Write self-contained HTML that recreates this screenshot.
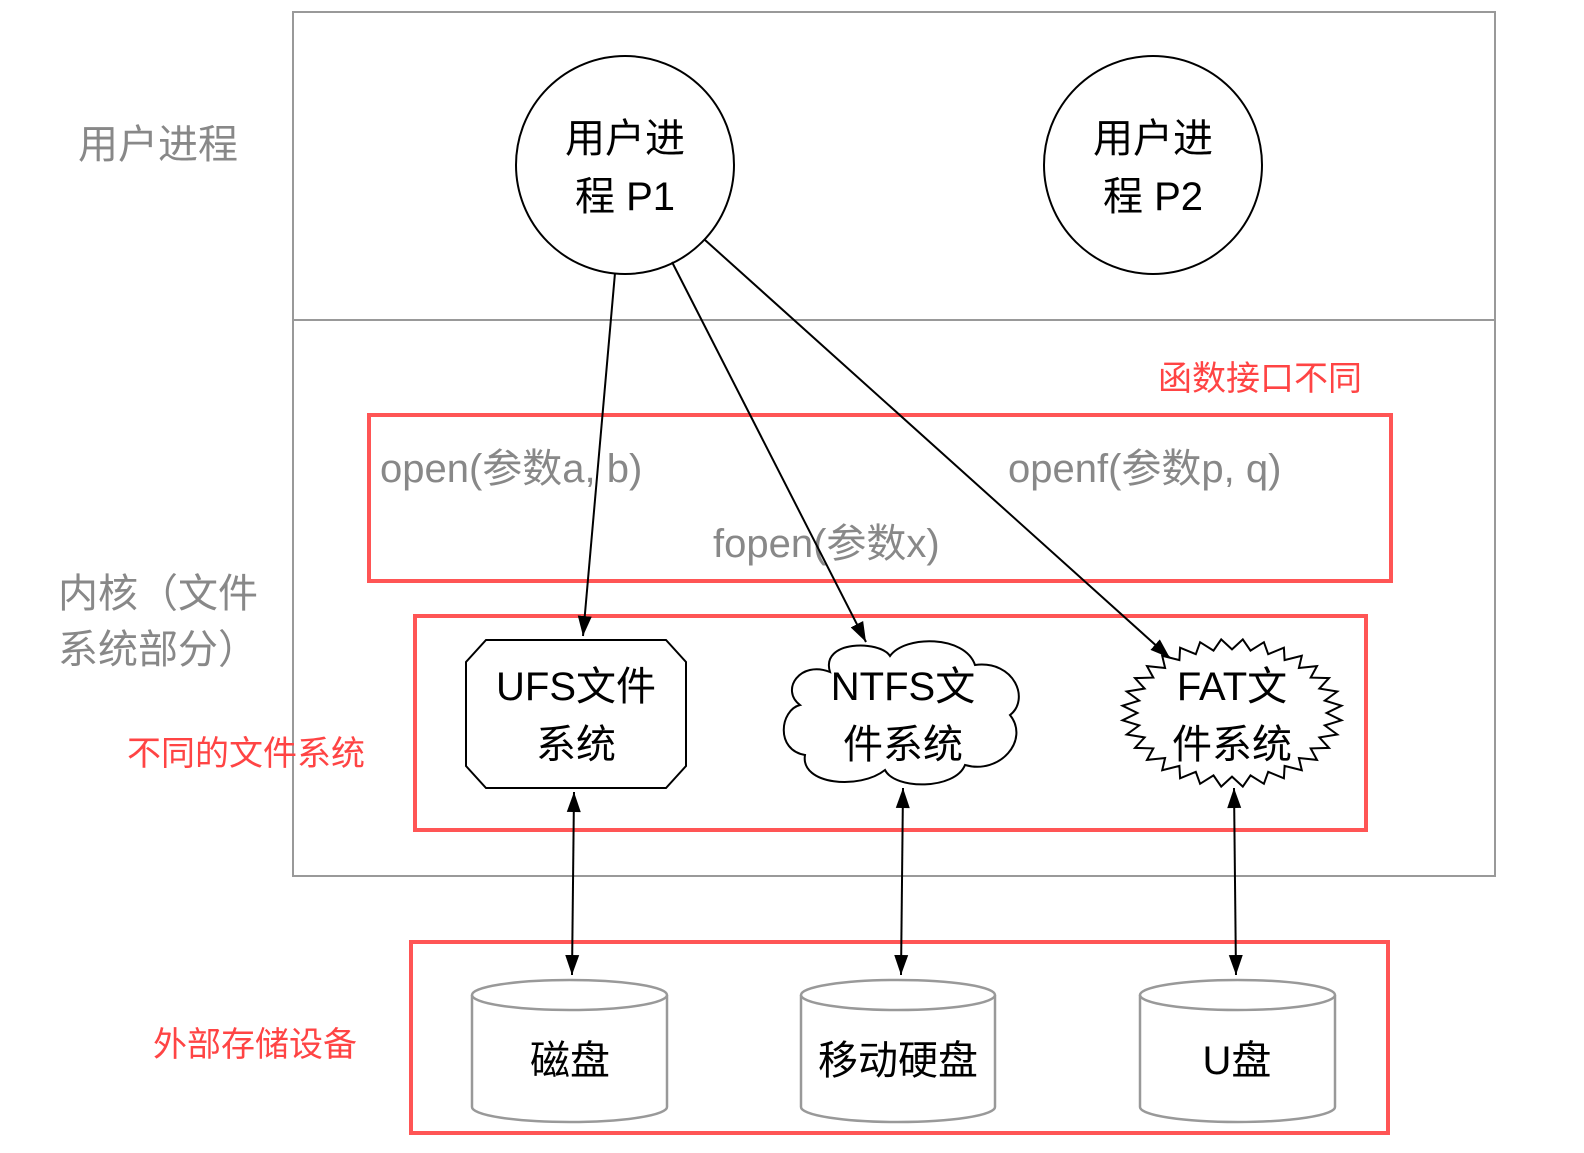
<!DOCTYPE html>
<html><head><meta charset="utf-8"><style>
html,body{margin:0;padding:0;background:#fff;}
svg text{font-family:"Liberation Sans","Noto Sans CJK SC",sans-serif;}
</style></head><body>
<svg id="s" width="1584" height="1148" viewBox="0 0 1584 1148" xmlns="http://www.w3.org/2000/svg">
<defs>
<marker id="a" markerWidth="10" markerHeight="10" refX="9" refY="5" orient="auto" markerUnits="userSpaceOnUse" viewBox="0 0 10 10">
<path d="M0,0 L10,5 L0,10 z" fill="#000"/></marker>
<marker id="ar" markerWidth="22" markerHeight="22" refX="20" refY="11" orient="auto" markerUnits="userSpaceOnUse">
<path d="M0,4 L20,11 L0,18 z" fill="#000"/></marker>
<marker id="as" markerWidth="22" markerHeight="22" refX="0" refY="11" orient="auto" markerUnits="userSpaceOnUse">
<path d="M20,4 L0,11 L20,18 z" fill="#000"/></marker>
</defs>
<rect x="293" y="12" width="1202" height="864" fill="none" stroke="#999" stroke-width="2"/>
<line x1="293" y1="320" x2="1495" y2="320" stroke="#999" stroke-width="2"/>
<g fill="#888" font-size="40">
<text x="78" y="158">用户进程</text>
<text x="58" y="607">内核（文件</text>
<text x="58" y="663">系统部分）</text>
<text x="380" y="482">open(参数a, b)</text>
<text x="1008" y="482">openf(参数p, q)</text>
<text x="713" y="557">fopen(参数x)</text>
</g>
<g fill="#f44" font-size="34">
<text x="1158" y="390">函数接口不同</text>
<text x="127" y="765">不同的文件系统</text>
<text x="153" y="1056">外部存储设备</text>
</g>
<g fill="none" stroke="#f55" stroke-width="4">
<rect x="369" y="415" width="1022" height="166"/>
<rect x="415" y="616" width="951" height="214"/>
<rect x="411" y="942" width="977" height="191"/>
</g>
<g fill="#fff" stroke="#000" stroke-width="2">
<circle cx="625" cy="165" r="109"/>
<circle cx="1153" cy="165" r="109"/>
</g>
<g font-size="40" fill="#000" text-anchor="middle">
<text x="625" y="152">用户进</text><text x="625" y="210">程 P1</text>
<text x="1153" y="152">用户进</text><text x="1153" y="210">程 P2</text>
</g>
<g stroke="#000" stroke-width="2" fill="none">
<line x1="615" y1="273" x2="583" y2="636" marker-end="url(#ar)"/>
<line x1="672" y1="262" x2="866" y2="642" marker-end="url(#ar)"/>
<line x1="705" y1="240" x2="1170" y2="658" marker-end="url(#ar)"/>
<line x1="574" y1="792" x2="572" y2="975" marker-start="url(#as)" marker-end="url(#ar)"/>
<line x1="903" y1="788" x2="901" y2="975" marker-start="url(#as)" marker-end="url(#ar)"/>
<line x1="1234" y1="788" x2="1236" y2="975" marker-start="url(#as)" marker-end="url(#ar)"/>
</g>
<polygon points="486,640 666,640 686,662 686,766 666,788 486,788 466,766 466,662" fill="#fff" stroke="#000" stroke-width="2"/>
<g id="cloud" stroke="#000" stroke-width="2" fill="#fff">
<path d="M830,672 C820,640 880,640 890,656 C905,635 965,635 975,665 C1015,660 1030,700 1010,715 C1030,740 1000,775 965,765 C955,790 895,790 885,770 C860,790 800,785 805,755 C775,750 780,710 800,705 C780,690 800,660 830,672 Z"/>
</g>
<polygon id="star" fill="#fff" stroke="#000" stroke-width="2" points=""/>
<g font-size="40" fill="#000" text-anchor="middle">
<text x="576" y="700">UFS文件</text><text x="576" y="758">系统</text>
<text x="903" y="700">NTFS文</text><text x="903" y="758">件系统</text>
<text x="1232" y="700">FAT文</text><text x="1232" y="758">件系统</text>
</g>
<g fill="#fff" stroke="#999" stroke-width="2.5">
<path d="M472,995 L472,1107 A97.5,15 0 0 0 667,1107 L667,995"/>
<ellipse cx="569.5" cy="995" rx="97.5" ry="15"/>
<path d="M801,995 L801,1107 A97,15 0 0 0 995,1107 L995,995"/>
<ellipse cx="898" cy="995" rx="97" ry="15"/>
<path d="M1140,995 L1140,1107 A97.5,15 0 0 0 1335,1107 L1335,995"/>
<ellipse cx="1237.5" cy="995" rx="97.5" ry="15"/>
</g>
<g font-size="40" fill="#000" text-anchor="middle">
<text x="570" y="1074">磁盘</text>
<text x="898" y="1074">移动硬盘</text>
<text x="1237" y="1074">U盘</text>
</g>
</svg>
<script>
var p=[],n=64,cx=1232,cy=713;
for(var i=0;i<n;i++){var t=i/n*2*Math.PI,ro=i%2?1:0.86;p.push((cx+110*ro*Math.cos(t)).toFixed(1)+","+(cy+74*ro*Math.sin(t)).toFixed(1));}
document.getElementById("star").setAttribute("points",p.join(" "));
</script>
</body></html>
